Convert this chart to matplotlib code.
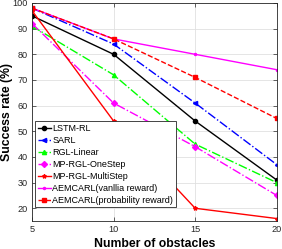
import matplotlib
matplotlib.use("Agg")
import matplotlib.pyplot as plt

plt.rcParams['font.family'] = ['Liberation Sans', 'DejaVu Sans']

obstacles = [5, 10, 15, 20]
lstm_rl = [95, 80, 54, 31]
sarl = [98, 84, 61, 37]
rgl_linear = [91, 72, 45, 30]
mp_rgl_onestep = [92, 61, 44, 25]
mp_rgl_multistep = [97, 54, 20, 16]
aemcarl_vanilla = [98, 86, 80, 74]
aemcarl_prob = [98, 86, 71, 55]
labels = ['LSTM-RL', 'SARL', 'RGL-Linear', 'MP-RGL-OneStep', 'MP-RGL-MultiStep',
          'AEMCARL(vanllia reward)', 'AEMCARL(probability reward)']

fig = plt.figure(figsize=(2.82, 2.49), dpi=100)
ax = fig.add_axes([0.1135, 0.112, 0.868, 0.876])

series = [
    (lstm_rl, 'k', '-', 'o'),
    (sarl, '#0000ff', '-.', '<'),
    (rgl_linear, '#00ff00', '-.', '^'),
    (mp_rgl_onestep, '#ff00ff', '-.', 'D'),
    (mp_rgl_multistep, '#ff0000', '-', '*'),
    (aemcarl_vanilla, '#ff00ff', '-', '.'),
    (aemcarl_prob, '#ff0000', '--', 's'),
]
for (vals, c, ls, m), lab in zip(series, labels):
    ax.plot(obstacles, vals, color=c, linestyle=ls, marker=m, markersize=3,
            linewidth=1.0, label=lab)

ax.set_xlim(5, 20)
ax.set_ylim(15, 100)
ax.set_xticks([5, 10, 15, 20])
ax.set_yticks([20, 30, 40, 50, 60, 70, 80, 90, 100])
ax.grid(True, color='#e0e0e0', linewidth=0.6)
ax.set_axisbelow(True)
ax.tick_params(direction='in', top=True, right=True, labelsize=6.6, length=3,
               width=0.5, colors='#262626', pad=3)
for s in ax.spines.values():
    s.set_linewidth(0.6)
    s.set_color('#262626')
ax.set_xlabel('Number of obstacles', fontsize=8.8, fontweight='bold', labelpad=3)
ax.set_ylabel('Success rate (%)', fontsize=8.8, fontweight='bold', labelpad=2)
ax.yaxis.set_label_coords(-0.078, 0.5)
leg = ax.legend(loc='lower left', bbox_to_anchor=(0.013, 0.063), fontsize=6.5,
                frameon=True, fancybox=False,
                handlelength=1.4, handletextpad=0.2, labelspacing=0.33,
                borderpad=0.3, borderaxespad=0.0, framealpha=1)
leg.get_frame().set_edgecolor('#262626')
leg.get_frame().set_linewidth(0.6)
fig.savefig('out.png', dpi=100)
